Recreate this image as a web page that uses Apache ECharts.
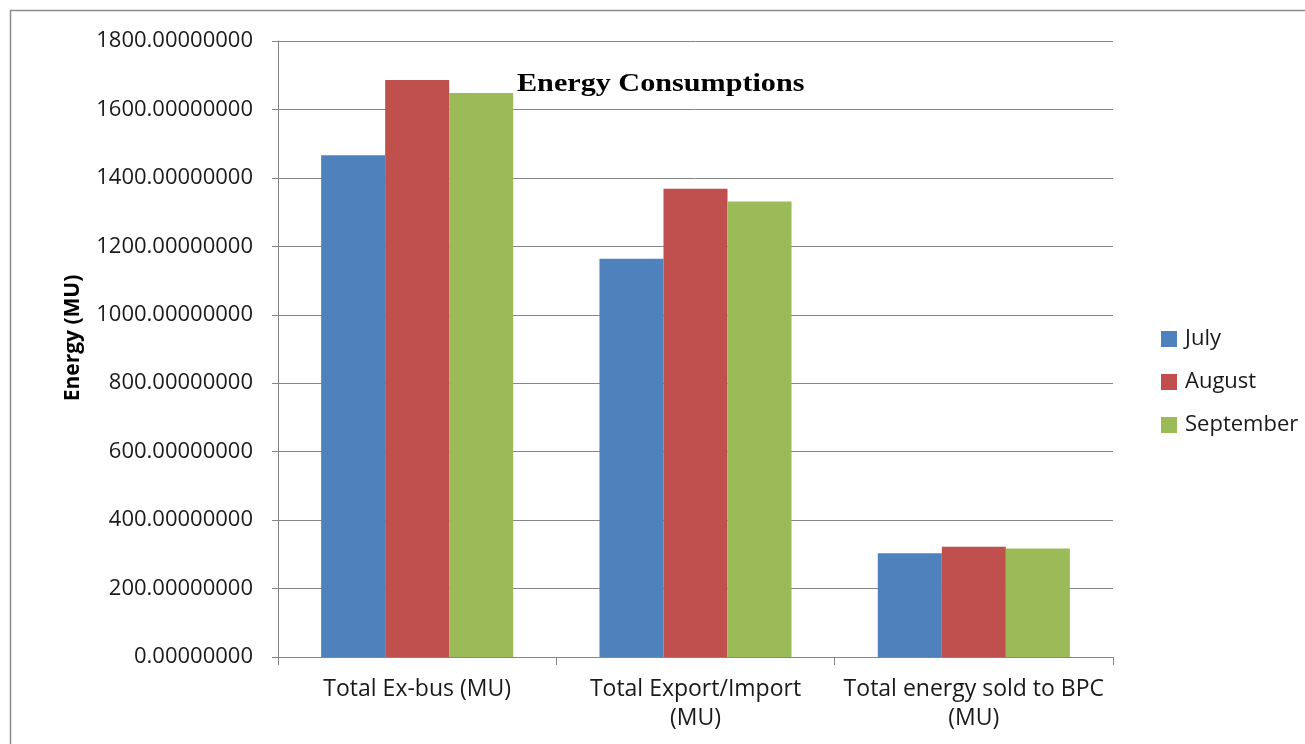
<!DOCTYPE html>
<html>
<head>
<meta charset="utf-8">
<script src="https://cdn.jsdelivr.net/npm/echarts@6/dist/echarts.min.js"></script>
<style>
  html, body { margin: 0; padding: 0; background: #fff; }
  #chart { width: 1305px; height: 744px; }
</style>
</head>
<body>
<div id="chart"></div>
<script>
// Energy figures per category (MU)
const categories = ['Total Ex-bus (MU)', 'Total Export/Import\n(MU)', 'Total energy sold to BPC\n(MU)'];
const seriesNames = ['July', 'August', 'September'];
const julyValues = [1466, 1164, 303];
const augustValues = [1686, 1368, 322];
const septemberValues = [1648, 1331, 317];
const yTicks = { min: 0, max: 1800, interval: 200 };

const colors = ['#4F81BD', '#C0504D', '#9BBB59'];
const font = 'Open Sans, Liberation Sans, sans-serif';

const chart = echarts.init(document.getElementById('chart'), null, { renderer: 'canvas' });

const seriesData = [julyValues, augustValues, septemberValues];

chart.setOption({
  animation: false,
  backgroundColor: '#ffffff',
  graphic: [
    {
      type: 'rect',
      shape: { x: 10.5, y: 10.5, width: 1310, height: 760 },
      style: { fill: 'none', stroke: '#8c8c8c', lineWidth: 1.5 },
      silent: true
    },
    {
      // chart title, slightly widened
      type: 'text',
      x: 517,
      y: 84,
      scaleX: 1.16,
      style: {
        text: 'Energy Consumptions',
        font: 'bold 26px "Liberation Serif", "Times New Roman", serif',
        fill: '#000',
        textAlign: 'left',
        textVerticalAlign: 'middle'
      },
      silent: true
    },
    {
      // value axis name
      type: 'text',
      x: 73,
      y: 338,
      rotation: Math.PI / 2,
      style: {
        text: 'Energy (MU)',
        font: 'bold 21px "Open Sans", sans-serif',
        fill: '#000',
        textAlign: 'center',
        textVerticalAlign: 'middle'
      },
      silent: true
    }
  ],
  legend: {
    orient: 'vertical',
    left: 1156,
    top: 323,
    itemWidth: 16,
    itemHeight: 16,
    itemGap: 21,
    icon: 'rect',
    data: seriesNames,
    textStyle: { fontFamily: font, fontSize: 22, color: '#1a1a1a', padding: [0, 0, 0, 3] }
  },
  grid: { left: 278, top: 41, right: 192, bottom: 87, containLabel: false },
  xAxis: {
    type: 'category',
    data: categories,
    axisLine: { lineStyle: { color: '#868686', width: 1 } },
    axisTick: { show: true, length: 8, lineStyle: { color: '#868686' } },
    axisLabel: {
      interval: 0,
      hideOverlap: false,
      fontFamily: font,
      fontSize: 23,
      color: '#1a1a1a',
      lineHeight: 29,
      margin: 18
    }
  },
  yAxis: {
    type: 'value',
    min: yTicks.min,
    max: yTicks.max,
    interval: yTicks.interval,
    axisLine: { show: true, lineStyle: { color: '#868686', width: 1 } },
    axisTick: { show: true, length: 6, lineStyle: { color: '#868686' } },
    splitLine: { lineStyle: { color: '#868686', width: 1 } },
    axisLabel: {
      fontFamily: font,
      fontSize: 22,
      color: '#1a1a1a',
      margin: 25,
      formatter: v => v.toFixed(8)
    }
  },
  series: seriesNames.map((name, i) => ({
    name,
    type: 'bar',
    data: seriesData[i],
    barGap: '0%',
    barCategoryGap: '31%',
    itemStyle: { color: colors[i] }
  }))
});
</script>
</body>
</html>
